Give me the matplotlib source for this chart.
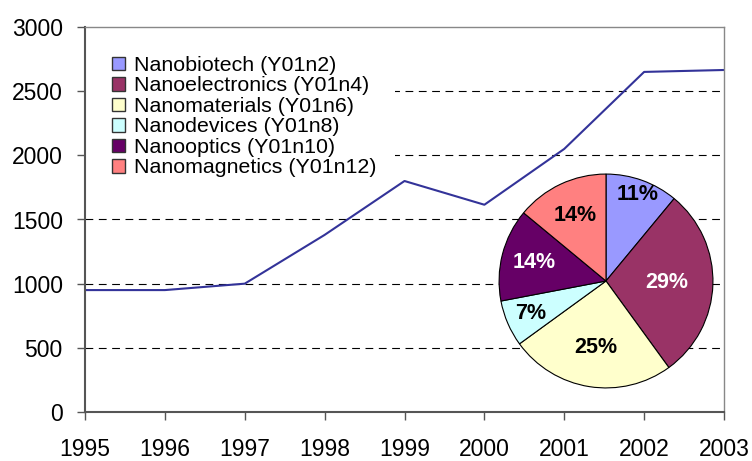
import numpy as np
import matplotlib
matplotlib.use("Agg")
import matplotlib.pyplot as plt
import matplotlib.patches as mpatches

plt.rcParams['font.family'] = ['Liberation Sans', 'DejaVu Sans']

# line series
years = [1995, 1996, 1997, 1998, 1999, 2000, 2001, 2002, 2003]
counts = [950, 950, 1000, 1380, 1800, 1615, 2050, 2650, 2665]

# pie series
sections = ["Nanobiotech (Y01n2)", "Nanoelectronics (Y01n4)", "Nanomaterials (Y01n6)",
            "Nanodevices (Y01n8)", "Nanooptics (Y01n10)", "Nanomagnetics (Y01n12)"]
shares = [11, 29, 25, 7, 14, 14]
pie_colors = ["#9999FF", "#993366", "#FFFFCC", "#CCFFFF", "#660066", "#FF8080"]
label_colors = ["black", "white", "black", "black", "white", "black"]
label_radius = [0.86, 0.57, 0.63, 0.77, 0.69, 0.68]

y_ticks = [0, 500, 1000, 1500, 2000, 2500, 3000]

fig = plt.figure(figsize=(7.52, 4.61), dpi=100)
ax = fig.add_axes([85 / 752, 49 / 461, 639 / 752, 385 / 461])

for y in y_ticks[1:-1]:
    ax.axhline(y, color='black', linewidth=0.8, linestyle=(0, (7, 5)), zorder=1)

ax.plot(years, counts, color='#333399', linewidth=1.5, zorder=2)

ax.set_xlim(1995, 2003)
ax.set_ylim(0, 3000)
ax.set_xticks(years)
ax.set_yticks(y_ticks)
ax.tick_params(axis='x', direction='out', length=6, width=1, color='#555555', pad=13, labelsize=16.5)
ax.tick_params(axis='y', direction='out', length=6, width=1, color='#555555', pad=10, labelsize=16.5)

for side in ['left', 'bottom']:
    ax.spines[side].set_color('#555555')
    ax.spines[side].set_linewidth(1.5)
for side in ['top', 'right']:
    ax.spines[side].set_color('#888888')
    ax.spines[side].set_linewidth(1)

# white box behind the legend hides the gridlines
ax.add_patch(mpatches.Rectangle((0.002, 0.6), 0.483, 0.35, transform=ax.transAxes,
                                facecolor='white', edgecolor='none', zorder=1.5))

handles = [mpatches.Patch(facecolor=c, edgecolor='#333333', linewidth=1, label=s)
           for c, s in zip(pie_colors, sections)]
leg = ax.legend(handles=handles, loc='upper left', bbox_to_anchor=(0.042, 0.925),
                frameon=False, fontsize=15.4, handlelength=0.6, handleheight=0.6,
                handletextpad=0.45, labelspacing=0.07, borderpad=0, borderaxespad=0)
leg.set_zorder(3)

# pie inset
pax = fig.add_axes([498 / 752, 72 / 461, 216 / 752, 216 / 461])
wedges, _ = pax.pie(shares, colors=pie_colors, startangle=90, counterclock=False,
                    wedgeprops=dict(edgecolor='black', linewidth=0.8))
for w, v, tc, r in zip(wedges, shares, label_colors, label_radius):
    ang = np.deg2rad((w.theta1 + w.theta2) / 2)
    pax.text(r * np.cos(ang), r * np.sin(ang), f"{v}%", ha='center', va='center',
             fontsize=15.5, fontweight='bold', color=tc)
pax.set_xlim(-1.01, 1.01)
pax.set_ylim(-1.01, 1.01)
pax.set_aspect('equal')
pax.axis('off')

fig.savefig('out.png', dpi=100)
